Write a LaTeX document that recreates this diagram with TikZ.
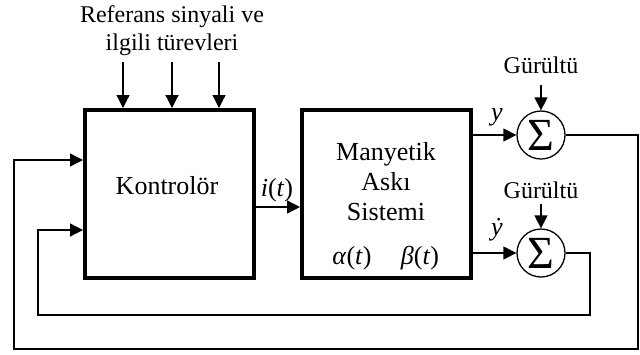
\documentclass[tikz,border=0pt]{standalone}
\usepackage{fontspec}
\setmainfont{Liberation Serif}
\usetikzlibrary{arrows.meta}
\begin{document}
\begin{tikzpicture}[x=1pt,y=-1pt,
 blk/.style={draw,line width=4pt,minimum width=169pt,minimum height=168pt,inner sep=0pt},
 sumnode/.style={draw,circle,line width=1.3pt,minimum size=48pt,inner sep=0pt,font=\fontsize{46}{46}\selectfont},
 ln/.style={line width=1.3pt},
 arr/.style={ln,-{Triangle[length=13pt,width=13pt]}},
 big/.style={font=\fontsize{26}{30}\selectfont,inner sep=0pt},
 small/.style={font=\fontsize{24}{28}\selectfont,inner sep=0pt}]
\useasboundingbox (0,0) rectangle (640,354);
% blocks
\node[blk] (ctrl) at (169.5,194) {};
\node[big] (ctrltxt) at (167,186) {Kontrolör};
\node[blk] (plant) at (386.5,194) {};
\node[big,align=center] (planttxt) at (386,182) {Manyetik\\Askı\\Sistemi};
\node[big] (alpha) at (352,258) {\textit{α}(\textit{t})};
\node[big] (beta) at (420,258) {\textit{β}(\textit{t})};
% reference inputs
\node[small,align=center] (ref) at (172,31) {Referans sinyali ve\\ilgili türevleri};
\coordinate (r1) at (123,62);
\coordinate (r2) at (172,62);
\coordinate (r3) at (219,62);
\draw[arr] (r1) -- (r1 |- ctrl.north);
\draw[arr] (r2) -- (r2 |- ctrl.north);
\draw[arr] (r3) -- (r3 |- ctrl.north);
% control signal
\coordinate (ia) at (254,207);
\draw[arr] (ia -| ctrl.east) -- (ia -| plant.west);
\node[big] (ilab) at (277,190) {\textit{i}(\textit{t})};
% summing junctions
\node[sumnode] (s1) at (541,135) {Σ};
\node[sumnode] (s2) at (541,253) {Σ};
\node[small] (n1) at (541,65) {Gürültü};
\node[small] (n2) at (541,190) {Gürültü};
\coordinate (n1a) at (541,85);
\coordinate (n2a) at (541,204);
\draw[arr] (n1a) -- (s1.north);
\draw[arr] (n2a) -- (s2.north);
\draw[arr] (s1.west -| plant.east) -- (s1.west);
\draw[arr] (s2.west -| plant.east) -- (s2.west);
\node[big] (ylab) at (497,117) {\textit{y}};
\node[big] (ydlab) at (497,230) {\textit{\.{y}}};
% feedback
\coordinate (o1b) at (638,349);
\coordinate (o1d) at (14,160);
\coordinate (o2b) at (590,315);
\coordinate (o2d) at (38,230);
\draw[arr] (s1.east) -| (o1b) -| (o1d) -- (o1d -| ctrl.west);
\draw[arr] (s2.east) -| (o2b) -| (o2d) -- (o2d -| ctrl.west);
\end{tikzpicture}
\end{document}
